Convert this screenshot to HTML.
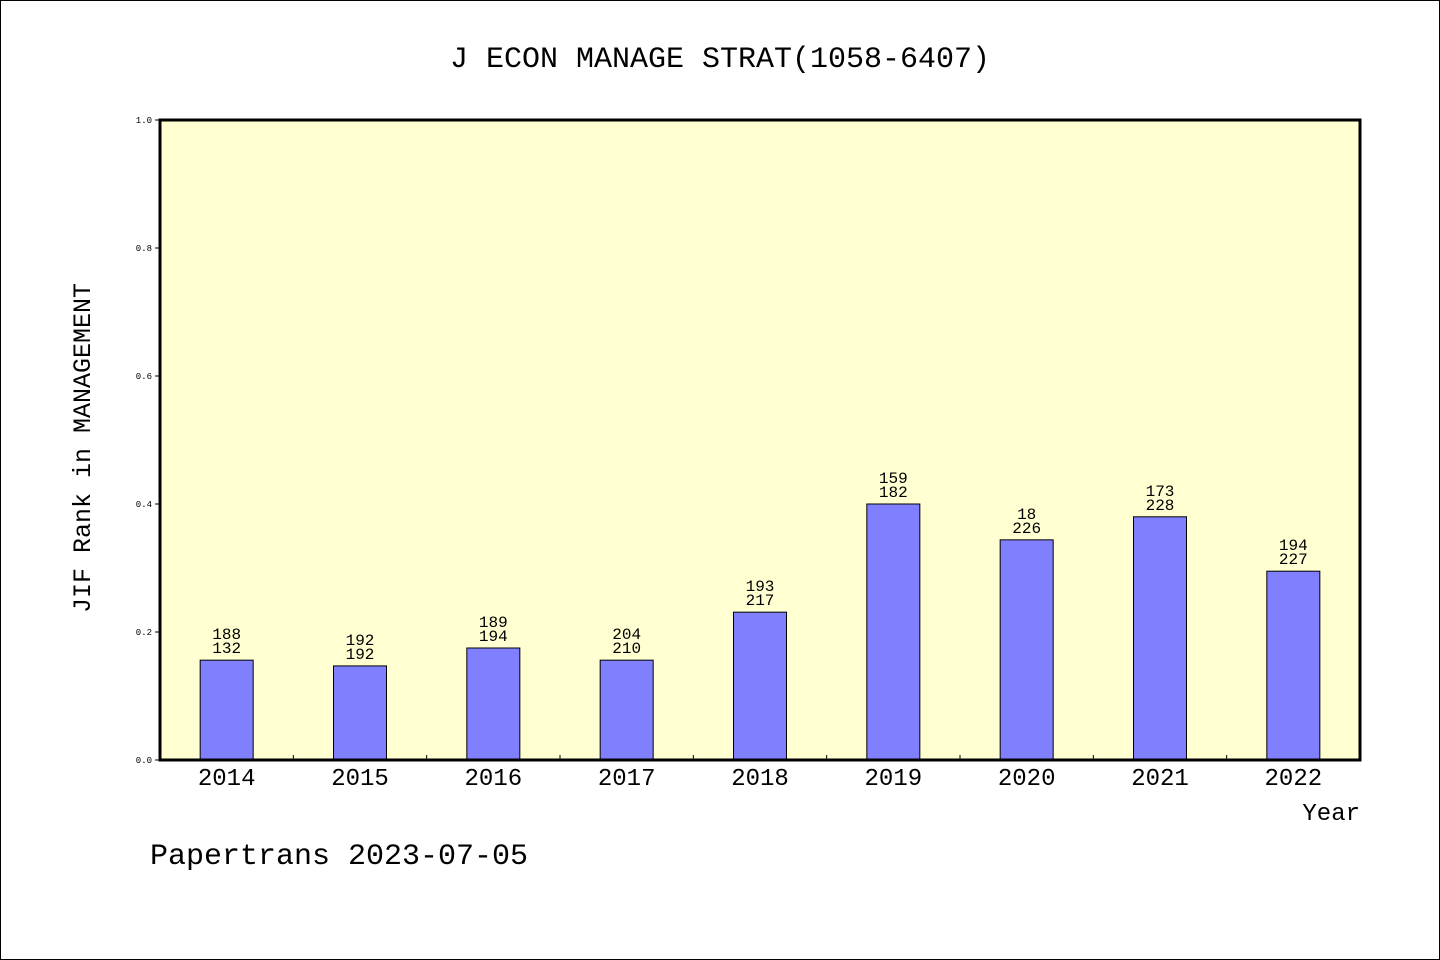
<!DOCTYPE html>
<html><head><meta charset="utf-8"><style>
body{margin:0;background:#fff}
svg{display:block}
text{font-family:"Liberation Mono","DejaVu Sans Mono",monospace;fill:#000}
</style></head><body>
<svg width="1440" height="960" viewBox="0 0 1440 960">
<rect x="0.5" y="0.5" width="1439" height="959" fill="#fff" stroke="#000"/>
<text x="720" y="67" font-size="30" text-anchor="middle">J ECON MANAGE STRAT(1058-6407)</text>
<rect x="160" y="120" width="1200" height="640" fill="#ffffd2"/>
<g id="bars"></g>
<g id="axes"></g>
<rect x="160" y="120" width="1200" height="640" fill="none" stroke="#000" stroke-width="3"/>
<text transform="translate(90,448) rotate(-90)" font-size="25" text-anchor="middle">JIF Rank in MANAGEMENT</text>
<text x="1360" y="820" font-size="24" text-anchor="end">Year</text>
<text x="150" y="864" font-size="30">Papertrans 2023-07-05</text>
</svg>
<script>
const years=["2014","2015","2016","2017","2018","2019","2020","2021","2022"];
const values=[0.156,0.147,0.175,0.156,0.231,0.400,0.344,0.380,0.295];
const topLabels=["188","192","189","204","193","159","18","173","194"];
const bottomLabels=["132","192","194","210","217","182","226","228","227"];
const yTicks=[0,0.2,0.4,0.6,0.8,1.0];
const NS="http://www.w3.org/2000/svg";
const x0=160,x1=1360,y0=760,y1=120;
const band=(x1-x0)/years.length;
const xc=i=>x0+band*(i+0.5);
const ys=v=>y0-(v/1.0)*(y0-y1);
function mk(t,a){const e=document.createElementNS(NS,t);for(const k in a)e.setAttribute(k,a[k]);return e;}
const bars=document.getElementById('bars'),axes=document.getElementById('axes');
years.forEach((yr,i)=>{
 const bw=53,top=ys(values[i]);
 const r=mk('rect',{x:xc(i)-bw/2,y:top,width:bw,height:y0-top,fill:'#8080ff',stroke:'#000','stroke-width':1});
 
 
 bars.appendChild(r);
 const t1=mk('text',{x:xc(i),y:top-21,'font-size':16,'text-anchor':'middle'});
 t1.textContent=topLabels[i];
 
 
 bars.appendChild(t1);
 const t2=mk('text',{x:xc(i),y:top-7,'font-size':16,'text-anchor':'middle'});
 t2.textContent=bottomLabels[i];
 
 
 bars.appendChild(t2);
 const xl=mk('text',{x:xc(i),y:785,'font-size':24,'text-anchor':'middle'});
 xl.textContent=yr;
 
 
 axes.appendChild(xl);
 if(i>0){
  const tk=mk('line',{x1:x0+band*i,x2:x0+band*i,y1:y0,y2:y0-5,stroke:'#000','stroke-width':1});
  
  
  axes.appendChild(tk);
 }
});
yTicks.forEach(v=>{
 const y=ys(v);
 const tk=mk('line',{x1:x0-5,x2:x0,y1:y,y2:y,stroke:'#000','stroke-width':1});
 
 
 axes.appendChild(tk);
 const tl=mk('text',{x:x0-8,y:y+3,'font-size':9,'text-anchor':'end'});
 tl.textContent=v.toFixed(1);
 
 
 axes.appendChild(tl);
});
</script>
</body></html>
